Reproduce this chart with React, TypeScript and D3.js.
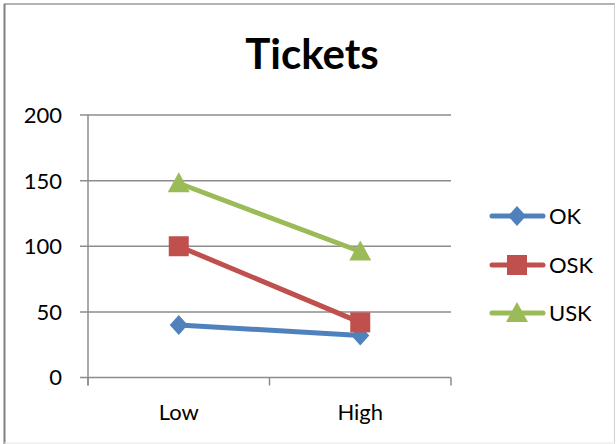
import React from "react";
import * as d3 from "d3";

const categories = ["Low", "High"];
const okValues = [40, 32];
const oskValues = [100, 42];
const uskValues = [148, 96];
const yTicks = [0, 50, 100, 150, 200];
const seriesNames = ["OK", "OSK", "USK"];
const seriesColors = ["#4F81BD", "#C0504D", "#9BBB59"];
const seriesMarkers = ["diamond", "square", "triangle"];
const title = "Tickets";

const W = 616;
const H = 444;
const FONT = "Lato, 'Open Sans', sans-serif";

function Marker({ type, x, y, color }: { type: string; x: number; y: number; color: string }) {
  if (type === "diamond") {
    const p = `M${x},${y - 10}L${x + 9},${y}L${x},${y + 10}L${x - 9},${y}Z`;
    return <path d={p} fill={color} />;
  }
  if (type === "square") {
    return <rect x={x - 10} y={y - 10} width={20} height={20} fill={color} />;
  }
  const p = `M${x},${y - 11}L${x + 11},${y + 9}L${x - 11},${y + 9}Z`;
  return <path d={p} fill={color} />;
}

export default function App() {
  const left = 88;
  const right = 451;
  const top = 115;
  const bottom = 377.5;
  const x = d3.scaleBand<string>().domain(categories).range([left, right]).padding(0);
  const y = d3.scaleLinear().domain([0, 200]).range([bottom, top]);
  const allSeries = [okValues, oskValues, uskValues];
  const line = d3
    .line<number>()
    .x((_, i) => (x(categories[i]) as number) + x.bandwidth() / 2)
    .y((d) => y(d));
  const xTickPositions = [left, ...categories.map((c) => (x(c) as number) + x.bandwidth())];
  const legendY = [216, 265, 313];

  return (
    <svg
      width={W}
      height={H}
      style={{ position: "absolute", left: 0, top: 0, background: "#fff" }}
    >
      <rect x={0} y={0} width={W} height={H} fill="#fff" />
      {/* border */}
      <line x1={4} y1={4} x2={615} y2={4} stroke="#9a9a9a" strokeWidth={1.5} />
      <line x1={4.5} y1={4} x2={4.5} y2={444} stroke="#808080" strokeWidth={2} />
      <line x1={614.5} y1={4} x2={614.5} y2={444} stroke="#d0d0d0" strokeWidth={1} />
      <line x1={4} y1={443} x2={615} y2={443} stroke="#e6e6e6" strokeWidth={1} />

      <text
        x={312}
        y={69}
        textAnchor="middle"
        fontFamily={FONT}
        fontWeight="bold"
        fontSize={42}
        fill="#000"
      >
        {title}
      </text>

      {/* gridlines & y ticks */}
      {yTicks.map((t) => (
        <g key={t}>
          <line x1={80} x2={right} y1={y(t)} y2={y(t)} stroke="#8c8c8c" strokeWidth={1.5} />
          <text
            x={62}
            y={y(t)}
            dy="0.36em"
            textAnchor="end"
            fontFamily={FONT}
            fontSize={22}
            fill="#000"
          >
            {t}
          </text>
        </g>
      ))}
      {/* y axis */}
      <line x1={left} x2={left} y1={top} y2={bottom + 8} stroke="#8c8c8c" strokeWidth={1.5} />
      {/* x ticks */}
      {xTickPositions.map((px, i) => (
        <line key={i} x1={px} x2={px} y1={bottom} y2={bottom + 8} stroke="#8c8c8c" strokeWidth={1.5} />
      ))}
      {categories.map((c) => (
        <text
          key={c}
          x={(x(c) as number) + x.bandwidth() / 2}
          y={420}
          textAnchor="middle"
          fontFamily={FONT}
          fontSize={22}
          fill="#000"
        >
          {c}
        </text>
      ))}

      {/* series */}
      {allSeries.map((vals, si) => (
        <g key={si}>
          <path
            d={line(vals) || ""}
            fill="none"
            stroke={seriesColors[si]}
            strokeWidth={5}
            strokeLinecap="round"
          />
          {vals.map((v, i) => (
            <Marker
              key={i}
              type={seriesMarkers[si]}
              x={(x(categories[i]) as number) + x.bandwidth() / 2}
              y={y(v)}
              color={seriesColors[si]}
            />
          ))}
        </g>
      ))}

      {/* legend */}
      {seriesNames.map((n, si) => (
        <g key={n}>
          <line
            x1={492}
            x2={543}
            y1={legendY[si]}
            y2={legendY[si]}
            stroke={seriesColors[si]}
            strokeWidth={5}
            strokeLinecap="round"
          />
          <Marker type={seriesMarkers[si]} x={517} y={legendY[si]} color={seriesColors[si]} />
          <text
            x={549}
            y={legendY[si]}
            dy="0.36em"
            fontFamily={FONT}
            fontSize={22}
            fill="#000"
          >
            {n}
          </text>
        </g>
      ))}
    </svg>
  );
}
